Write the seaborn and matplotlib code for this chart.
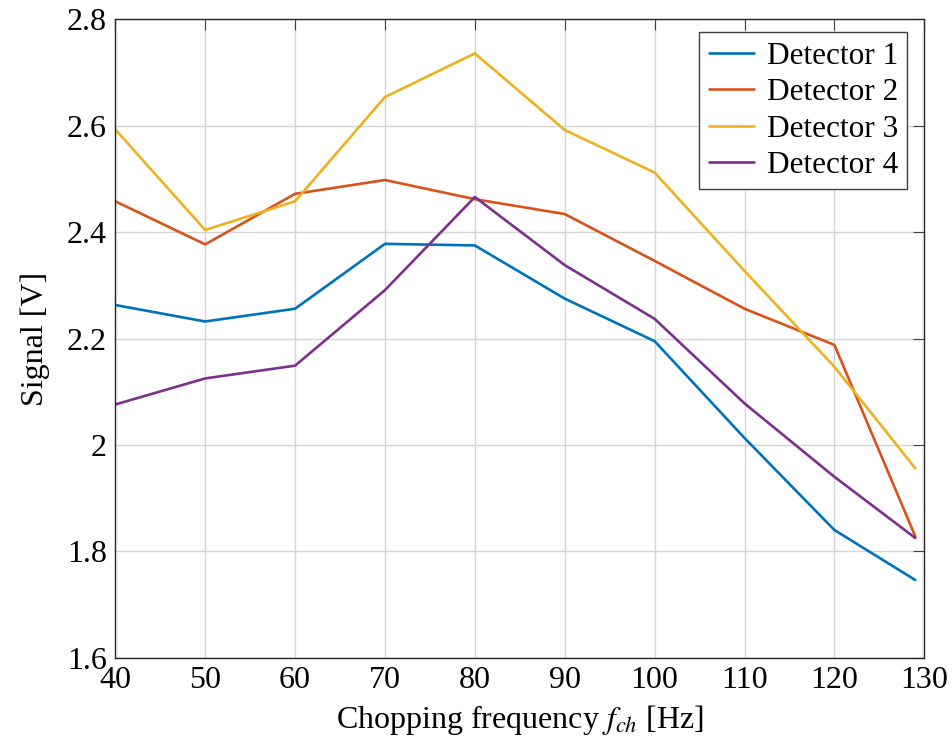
import matplotlib
matplotlib.use("Agg")
import matplotlib.pyplot as plt
import seaborn as sns
import pandas as pd
from matplotlib.ticker import FuncFormatter

freq = [40, 50, 60, 70, 80, 90, 100, 110, 120, 129]
det1 = [2.263, 2.232, 2.256, 2.378, 2.375, 2.275, 2.195, 2.013, 1.840, 1.746]
det2 = [2.458, 2.377, 2.472, 2.498, 2.462, 2.434, 2.346, 2.256, 2.188, 1.828]
det3 = [2.593, 2.404, 2.458, 2.654, 2.736, 2.592, 2.512, 2.327, 2.147, 1.956]
det4 = [2.076, 2.125, 2.149, 2.291, 2.466, 2.338, 2.237, 2.078, 1.940, 1.825]
labels = ["Detector 1", "Detector 2", "Detector 3", "Detector 4"]
colors = ["#0072BD", "#D95319", "#EDB120", "#7E2F8E"]

sns.set_style("whitegrid")
plt.rcParams['font.family'] = ['Liberation Serif', 'DejaVu Serif']
plt.rcParams['mathtext.fontset'] = 'stix'
plt.rcParams['text.color'] = 'black'
plt.rcParams['axes.labelcolor'] = 'black'

fig = plt.figure(figsize=(9.52, 7.45), dpi=100)
ax = fig.add_axes([0.1211, 0.1172, 0.9709 - 0.1211, 0.974 - 0.1172])

for vals, lab, col in zip([det1, det2, det3, det4], labels, colors):
    df = pd.DataFrame({"f": freq, "s": vals})
    sns.lineplot(data=df, x="f", y="s", color=col, label=lab, linewidth=1.9, ax=ax)

ax.set_xlim(40, 130)
ax.set_ylim(1.6, 2.8)
ax.set_xticks(range(40, 131, 10))
ax.set_yticks([1.6, 1.8, 2.0, 2.2, 2.4, 2.6, 2.8])
ax.yaxis.set_major_formatter(FuncFormatter(lambda v, p: "%g" % round(v, 2)))

ax.grid(True, color="#d4d4d4", linewidth=1.0)
for s in ax.spines.values():
    s.set_color("#262626")
    s.set_linewidth(1.0)
ax.tick_params(direction="in", length=8, width=0.8, color="#404040",
               top=True, right=True, labelsize=23, pad=6, labelcolor="black")

ax.set_xlabel(r"Chopping frequency $f_{ch}$ [Hz]", fontsize=23, labelpad=6)
ax.set_ylabel("Signal [V]", fontsize=23, labelpad=12)

leg = ax.legend(loc="upper right", bbox_to_anchor=(0.979, 0.98), fontsize=22.5,
                frameon=True, fancybox=False, framealpha=1, edgecolor="#404040",
                handlelength=1.45, handletextpad=0.4, labelspacing=0.24,
                borderpad=0.3, borderaxespad=0)
leg.get_frame().set_linewidth(1.0)
for t in leg.get_texts():
    t.set_color("black")

fig.savefig("out.png", dpi=100)
